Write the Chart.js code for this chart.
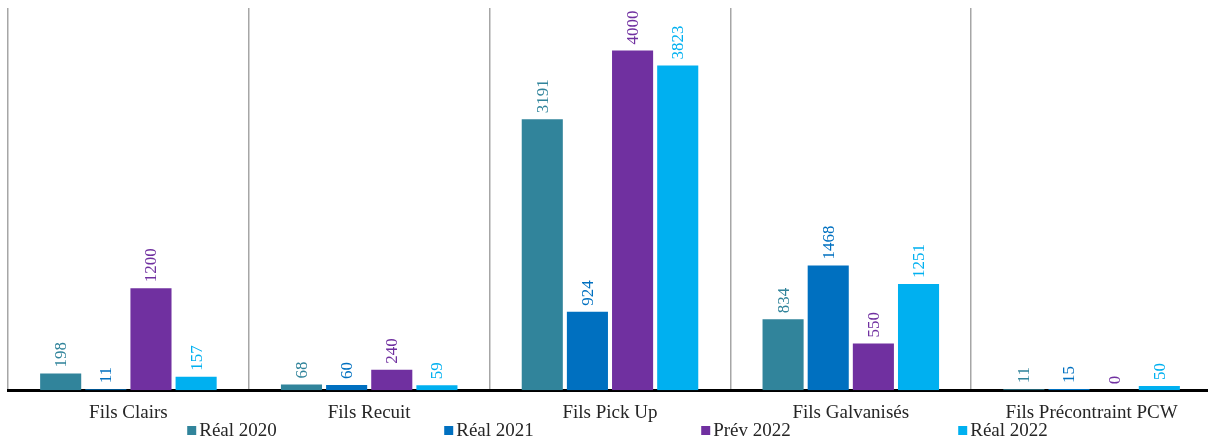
<!DOCTYPE html>
<html>
<head>
<meta charset="utf-8">
<script src="https://cdn.jsdelivr.net/npm/chart.js@4"></script>
<style>
  html, body { margin: 0; padding: 0; background: #fff; overflow: hidden; }
  #wrap { width: 1208px; height: 439px; overflow: hidden; }
</style>
</head>
<body>
<div id="wrap"><canvas id="chart" width="1212" height="439"></canvas></div>
<script>
// data
const categories = ["Fils Clairs", "Fils Recuit", "Fils Pick Up", "Fils Galvanisés", "Fils Précontraint PCW"];
const seriesNames = ["Réal 2020", "Réal 2021", "Prév 2022", "Réal 2022"];
const real2020 = [198, 68, 3191, 834, 11];
const real2021 = [11, 60, 924, 1468, 15];
const prev2022 = [1200, 240, 4000, 550, 0];
const real2022 = [157, 59, 3823, 1251, 50];
const colors = ["#31849B", "#0070C0", "#7030A0", "#00B0F0"];

const serif = "'Liberation Serif', 'DejaVu Serif', serif";

// value labels, rotated, above each bar
const valueLabels = {
  id: "valueLabels",
  afterDatasetsDraw(chart) {
    const ctx = chart.ctx;
    chart.data.datasets.forEach((ds, i) => {
      const meta = chart.getDatasetMeta(i);
      meta.data.forEach((bar, j) => {
        ctx.save();
        ctx.translate(bar.x, bar.y - 6);
        ctx.rotate(-Math.PI / 2);
        ctx.font = "17px " + serif;
        ctx.fillStyle = ds.backgroundColor;
        ctx.textAlign = "left";
        ctx.textBaseline = "middle";
        ctx.fillText(String(ds.data[j]), 0, 1);
        ctx.restore();
      });
    });
  }
};

// legend spread across the bottom
const spreadLegend = {
  id: "spreadLegend",
  afterDraw(chart) {
    const ctx = chart.ctx;
    const step = 257;
    const y = 431;
    ctx.save();
    ctx.font = "19px " + serif;
    const lastW = 13 + ctx.measureText(seriesNames[seriesNames.length - 1]).width;
    const total = step * (seriesNames.length - 1) + lastW;
    let x = (chart.chartArea.left + chart.chartArea.right) / 2 - total / 2 + 8;
    seriesNames.forEach((name, i) => {
      ctx.fillStyle = colors[i];
      ctx.fillRect(x, y - 5, 9, 9);
      ctx.fillStyle = "#262626";
      ctx.textAlign = "left";
      ctx.textBaseline = "middle";
      ctx.fillText(name, x + 12, y);
      x += step;
    });
    ctx.restore();
  }
};

new Chart(document.getElementById("chart"), {
  type: "bar",
  data: {
    labels: categories,
    datasets: [
      { label: seriesNames[0], data: real2020, backgroundColor: colors[0] },
      { label: seriesNames[1], data: real2021, backgroundColor: colors[1] },
      { label: seriesNames[2], data: prev2022, backgroundColor: colors[2] },
      { label: seriesNames[3], data: real2022, backgroundColor: colors[3] }
    ]
  },
  options: {
    responsive: false,
    animation: false,
    layout: { padding: { left: 8, right: 0, top: 8, bottom: 4 } },
    datasets: { bar: { categoryPercentage: 0.75, barPercentage: 0.91 } },
    plugins: {
      legend: { display: false },
      tooltip: { enabled: false }
    },
    scales: {
      x: {
        grid: { display: true, offset: true, drawTicks: false, color: "#a6a6a6", lineWidth: 1.5 },
        border: { display: true, color: "#000", width: 3 },
        ticks: { padding: 11, color: "#262626", font: { family: serif, size: 19 } }
      },
      y: {
        display: false,
        min: 0,
        max: 4500
      }
    }
  },
  plugins: [valueLabels, spreadLegend]
});
</script>
</body>
</html>
